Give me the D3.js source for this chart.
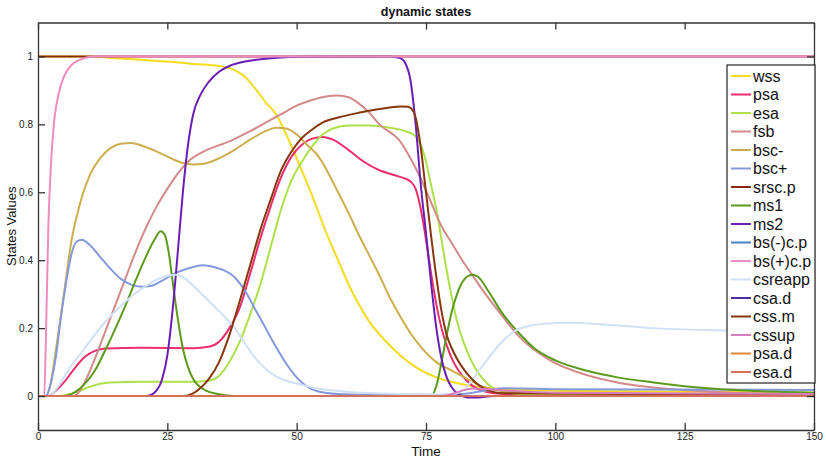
<!DOCTYPE html>
<html>
<head>
<meta charset="utf-8">
<script src="https://cdn.jsdelivr.net/npm/d3@7.9.0/dist/d3.min.js"></script>
<style>
  html, body { margin: 0; padding: 0; background: #fff; }
  svg { display: block; font-family: "Liberation Sans", Arial, sans-serif; }
</style>
</head>
<body>
<svg id="chart" width="826" height="459"></svg>
<script>
// series names, in legend order
const names = ["wss", "psa", "esa", "fsb", "bsc-", "bsc+", "srsc.p", "ms1", "ms2",
  "bs(-)c.p", "bs(+)c.p", "csreapp", "csa.d", "css.m", "cssup", "psa.d", "esa.d"];

const colors = ["#f6dc1a", "#ec2f6c", "#afe04b", "#d38a8a", "#cdae4e", "#8499dc", "#8a2a14",
  "#5b9a1d", "#6a1fb4", "#4a7fc4", "#ee8cc0", "#cfe1f5", "#4d2da0", "#86380c", "#d97cbc",
  "#e3893a", "#d4705c"];

// [time, value]
const wss = [[0,1],[10,1],[15,0.995],[20,0.99],[25,0.985],[30,0.978],[35,0.972],[38,0.96],[40,0.94],
  [42,0.905],[44,0.865],[46,0.83],[48,0.77],[50,0.7],[53,0.59],[56,0.47],[58,0.4],[60,0.33],[62,0.27],
  [64,0.22],[67,0.165],[70,0.12],[73,0.085],[77,0.055],[82,0.035],[87,0.024],[95,0.018],[110,0.014],[150,0.01]];

const psa = [[0,0],[2,0],[3,0.01],[5,0.04],[7,0.08],[9,0.115],[11,0.133],[13,0.14],[20,0.142],[30,0.141],
  [33,0.145],[35,0.16],[37,0.2],[39,0.26],[41,0.36],[43,0.465],[45,0.56],[47,0.645],[49,0.705],[51,0.74],
  [53,0.758],[55,0.763],[57,0.755],[60,0.725],[63,0.69],[66,0.665],[69,0.65],[71,0.64],[72,0.632],
  [73,0.61],[74,0.55],[75,0.46],[76,0.36],[77,0.27],[78,0.2],[79,0.15],[80,0.11],[82,0.06],[84,0.03],
  [86,0.015],[90,0.006],[150,0.004]];

const esa = [[0,0],[4,0],[6,0.005],[8,0.015],[10,0.027],[12,0.036],[14,0.04],[20,0.042],[30,0.042],
  [33,0.045],[35,0.06],[37,0.1],[39,0.16],[41,0.24],[43,0.33],[45,0.44],[47,0.55],[49,0.635],[51,0.69],
  [53,0.735],[55,0.77],[57,0.788],[60,0.797],[64,0.797],[68,0.79],[71,0.78],[73,0.765],[74,0.74],
  [75,0.69],[76,0.62],[77,0.55],[78,0.46],[79,0.37],[80,0.29],[81,0.22],[82,0.17],[83,0.13],[85,0.07],
  [87,0.035],[90,0.012],[95,0.004],[150,0.002]];

const fsb = [[0,0],[7,0],[9,0.04],[11,0.11],[13,0.19],[15,0.27],[17,0.35],[19,0.43],[21,0.5],[23,0.56],
  [25,0.61],[27,0.655],[29,0.69],[32,0.72],[37,0.75],[41,0.78],[44,0.805],[47,0.83],[50,0.855],[53,0.872],
  [56,0.883],[58,0.885],[60,0.88],[62,0.862],[64,0.835],[66,0.8],[70,0.75],[72,0.7],[74,0.64],[76,0.57],
  [78,0.5],[80,0.45],[82,0.4],[84,0.355],[86.5,0.3],[89,0.25],[93,0.175],[99,0.105],[106,0.062],
  [112,0.04],[119,0.025],[130,0.013],[150,0.005]];

const bscMinus = [[0,0],[1.5,0],[2.5,0.04],[3.5,0.14],[5,0.3],[6.5,0.46],[8,0.56],[10,0.65],[12,0.7],
  [14,0.73],[16,0.743],[18,0.745],[20,0.738],[23,0.72],[26,0.698],[28,0.686],[30,0.682],[32,0.684],
  [35,0.7],[38,0.725],[41,0.755],[44,0.78],[46,0.79],[48,0.788],[50,0.77],[52,0.74],[54,0.71],[56,0.66],
  [58,0.6],[60,0.54],[62,0.475],[64,0.415],[66,0.355],[68,0.29],[70,0.235],[72,0.185],[74,0.145],
  [77,0.1],[80,0.075],[83,0.05],[86,0.028],[90,0.015],[100,0.007],[150,0.004]];

const bscPlus = [[0,0],[1.5,0],[2.5,0.04],[3.5,0.12],[4.5,0.24],[5.5,0.34],[6.5,0.42],[7.5,0.455],
  [8.5,0.46],[10,0.445],[12,0.41],[14,0.375],[16,0.345],[18,0.328],[20,0.322],[22,0.325],[24,0.34],
  [27,0.365],[30,0.38],[32,0.385],[34,0.38],[36,0.37],[38,0.35],[40,0.31],[42,0.255],[44,0.2],
  [46,0.145],[48,0.095],[50,0.055],[52,0.028],[54,0.014],[58,0.006],[65,0.004],[78,0.003],[82,0.006],
  [86,0.015],[90,0.023],[94,0.022],[100,0.02],[150,0.018]];

const srscP = [[0,1],[150,1]];

const ms1 = [[0,0],[5,0],[7,0.01],[9,0.035],[11,0.075],[13,0.135],[15,0.2],[17,0.27],[19,0.345],
  [21,0.415],[22.5,0.46],[23.7,0.485],[24.5,0.475],[25.3,0.42],[26,0.34],[27,0.23],[28,0.14],[29,0.085],
  [30,0.05],[32,0.02],[35,0.005],[38,0],[76,0],[77,0.03],[78,0.1],[79,0.18],[80,0.25],[81,0.3],
  [82,0.335],[83,0.352],[84,0.357],[85,0.352],[87,0.31],[89.7,0.245],[93,0.185],[96,0.14],[100,0.105],
  [106,0.075],[112,0.055],[119,0.04],[130,0.022],[140,0.014],[150,0.01]];

const ms2 = [[0,0],[21,0],[22.5,0.01],[24,0.05],[25,0.12],[26,0.25],[27,0.42],[28,0.6],[29,0.74],
  [30,0.83],[31.5,0.89],[33,0.925],[35,0.955],[37,0.972],[40,0.985],[45,0.995],[50,0.999],[68,1],
  [70,0.995],[71,0.98],[72,0.93],[73,0.8],[74,0.62],[75,0.48],[76,0.33],[77,0.2],[78,0.11],[79,0.055],
  [80,0.025],[81,0.008],[82,0],[83,-0.004],[85,-0.004],[88,0],[150,0]];

const bsMinusCP = [[0,0],[150,0]];

const bsPlusCP = [[0,0],[1.2,0],[1.5,0.15],[2,0.5],[2.5,0.68],[3,0.79],[4,0.89],[5,0.94],[6.5,0.975],
  [8,0.99],[11,1],[150,1]];

const csreapp = [[0,0],[2,0],[4,0.03],[6,0.08],[9,0.14],[12.5,0.21],[16,0.265],[19,0.305],[22,0.335],
  [24.5,0.352],[26.6,0.357],[28.5,0.345],[30,0.325],[32,0.295],[34,0.265],[36,0.235],[38,0.2],[40,0.155],
  [42,0.112],[44,0.08],[46,0.058],[48,0.045],[50.5,0.035],[54,0.022],[58,0.015],[65,0.008],[75,0.005],
  [80,0.005],[82,0.015],[83.3,0.035],[85,0.07],[86.5,0.1],[89.7,0.16],[92,0.19],[95,0.207],[98,0.213],
  [102.6,0.216],[110,0.21],[118.6,0.2],[133,0.193],[150,0.188]];

const csaD = [[0,0],[150,0]];

const cssM = [[0,0],[28,0],[30,0.008],[31.5,0.025],[33,0.05],[35,0.1],[37,0.18],[39,0.28],[41,0.385],
  [43,0.49],[45,0.58],[47,0.665],[49,0.72],[51,0.76],[53,0.785],[55,0.805],[58,0.82],[62,0.834],
  [66,0.845],[70,0.853],[71.5,0.852],[72.5,0.84],[73,0.82],[74,0.73],[75,0.6],[76,0.47],[77,0.35],
  [78,0.25],[79,0.18],[80,0.14],[82,0.085],[84,0.048],[86,0.024],[90,0.008],[150,0.004]];

const cssup = [[0,0],[78,0],[80,0.006],[82,0.016],[84,0.022],[87,0.02],[92,0.015],[100,0.01],[150,0.006]];

const psaD = [[0,0],[150,0]];

const esaD = [[0,0],[150,0]];

const seriesValues = [wss, psa, esa, fsb, bscMinus, bscPlus, srscP, ms1, ms2, bsMinusCP, bsPlusCP,
  csreapp, csaD, cssM, cssup, psaD, esaD];

const xTicks = [0, 25, 50, 75, 100, 125, 150];
const yTicks = [0, 0.2, 0.4, 0.6, 0.8, 1];

const svg = d3.select("#chart");
const mLeft = 38, mRight = 814, mTop = 22.5, mBottom = 430;

const x = d3.scaleLinear().domain([0, 150]).range([mLeft, mRight]);
const y = d3.scaleLinear().domain([-0.1, 1.1]).range([mBottom, mTop]);

svg.append("defs").append("clipPath").attr("id", "clip")
  .append("rect").attr("x", mLeft).attr("y", mTop).attr("width", mRight - mLeft).attr("height", mBottom - mTop);

const line = d3.line()
  .x(d => x(d[0]))
  .y(d => y(d[1]))
  .curve(d3.curveMonotoneX);

const plot = svg.append("g").attr("clip-path", "url(#clip)");
seriesValues.forEach((s, i) => {
  plot.append("path")
    .attr("d", line(s))
    .attr("fill", "none")
    .attr("stroke", colors[i])
    .attr("stroke-width", 2);
});

// axes, MATLAB style box with inward ticks
const axisColor = "#333";
const styleAxis = g => {
  g.select(".domain").attr("stroke", axisColor).attr("stroke-width", 1.3);
  g.selectAll(".tick line").attr("stroke", axisColor).attr("stroke-width", 1.3);
  g.selectAll(".tick text").attr("fill", "#222").attr("font-size", 10)
    .attr("font-family", "Liberation Sans, Arial, sans-serif");
};

svg.append("g").attr("transform", `translate(0,${mBottom})`)
  .call(d3.axisBottom(x).tickValues(xTicks).tickSizeInner(-7).tickSizeOuter(0).tickPadding(3))
  .call(styleAxis);
svg.append("g").attr("transform", `translate(0,${mTop})`)
  .call(d3.axisTop(x).tickValues(xTicks).tickSizeInner(-7).tickSizeOuter(0).tickFormat(""))
  .call(styleAxis);
svg.append("g").attr("transform", `translate(${mLeft},0)`)
  .call(d3.axisLeft(y).tickValues(yTicks).tickSizeInner(-7).tickSizeOuter(0).tickPadding(5)
    .tickFormat(d => String(+d.toFixed(1))))
  .call(styleAxis);
svg.append("g").attr("transform", `translate(${mRight},0)`)
  .call(d3.axisRight(y).tickValues(yTicks).tickSizeInner(-7).tickSizeOuter(0).tickFormat(""))
  .call(styleAxis);

// titles
svg.append("text").attr("x", (mLeft + mRight) / 2).attr("y", 16)
  .attr("text-anchor", "middle").attr("font-size", 12.5).attr("font-weight", "bold")
  .attr("fill", "#111").text("dynamic states");
svg.append("text").attr("x", (mLeft + mRight) / 2).attr("y", 456)
  .attr("text-anchor", "middle").attr("font-size", 13.5).attr("fill", "#111").text("Time");
svg.append("text").attr("transform", `translate(16,${(mTop + mBottom) / 2}) rotate(-90)`)
  .attr("text-anchor", "middle").attr("font-size", 13).attr("fill", "#111").text("States Values");

// legend
const lg = svg.append("g");
lg.append("rect").attr("x", 727).attr("y", 65).attr("width", 88).attr("height", 318)
  .attr("fill", "#fff").attr("stroke", "#222").attr("stroke-width", 1.2);
names.forEach((n, i) => {
  const cy = 76 + i * 18.5;
  lg.append("line").attr("x1", 731).attr("x2", 751).attr("y1", cy).attr("y2", cy)
    .attr("stroke", colors[i]).attr("stroke-width", 2);
  lg.append("text").attr("x", 753).attr("y", cy + 5.5).attr("font-size", 16)
    .attr("fill", "#111").text(n);
});
</script>
</body>
</html>
